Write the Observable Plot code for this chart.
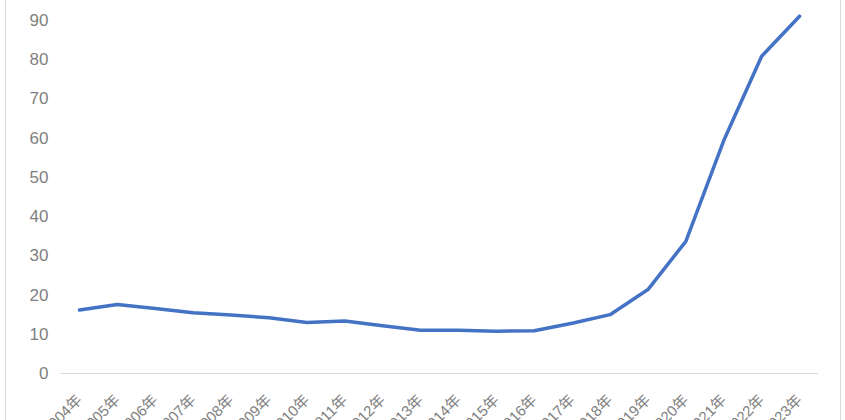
<!DOCTYPE html>
<html>
<head>
<meta charset="utf-8">
<script src="https://cdn.jsdelivr.net/npm/d3@7"></script>
<script src="https://cdn.jsdelivr.net/npm/@observablehq/plot@0.6"></script>
<style>
  html, body { margin: 0; padding: 0; background: #fff; overflow: hidden; }
  #wrap { position: relative; width: 845px; height: 420px; }
  #wrap::before { content: ""; position: absolute; left: 5px; top: 0; width: 834px; height: 420px;
    border-left: 1px solid #d9d9d9; border-right: 1px solid #d9d9d9; pointer-events: none; }
  svg { display: block; }
</style>
</head>
<body>
<div id="wrap"></div>
<script>
const years = ["2004年","2005年","2006年","2007年","2008年","2009年","2010年","2011年","2012年","2013年",
               "2014年","2015年","2016年","2017年","2018年","2019年","2020年","2021年","2022年","2023年"];
const values = [16.2, 17.6, 16.6, 15.5, 14.9, 14.2, 13.0, 13.4, 12.2, 11.0,
                11.0, 10.8, 10.9, 12.8, 15.0, 21.4, 33.7, 59.4, 80.9, 91.1];
const yTicks = [0, 10, 20, 30, 40, 50, 60, 70, 80, 90];

const data = years.map((y, i) => ({year: y, value: values[i]}));

const chart = Plot.plot({
  width: 845,
  height: 420,
  marginLeft: 60,
  marginRight: 27,
  marginTop: 20,
  marginBottom: 47,
  style: {fontFamily: "'Liberation Sans', 'Noto Sans CJK SC', sans-serif", fontSize: "16px", color: "#7f7f7f", background: "transparent"},
  x: {type: "point", domain: years, padding: 0.5, round: false, label: null},
  y: {domain: [0, 90], label: null},
  marks: [
    Plot.axisY({ticks: yTicks, tickSize: 0, tickPadding: 12, fontSize: 17, fill: "#808080", label: null}),
    Plot.axisX({tickSize: 0, tickPadding: 24, tickRotate: -45, fontSize: 15, fill: "#808080", label: null}),
    Plot.ruleY([0], {stroke: "#d9d9d9", strokeWidth: 1}),
    Plot.line(data, {x: "year", y: "value", stroke: "#4472C4", strokeWidth: 3.5, strokeLinejoin: "round", strokeLinecap: "round"})
  ]
});
document.getElementById("wrap").appendChild(chart);
</script>
</body>
</html>
